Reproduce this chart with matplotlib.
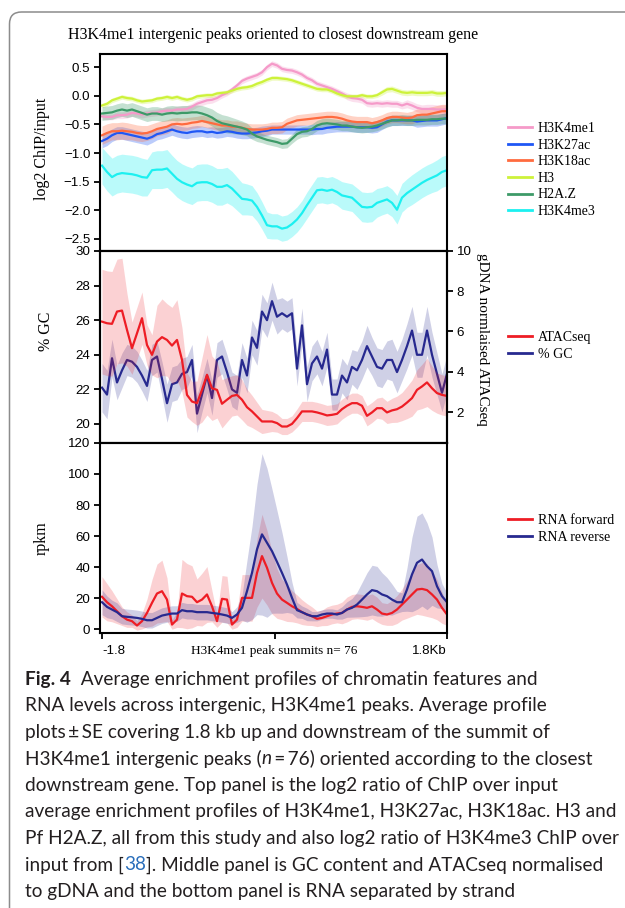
import numpy as np
import matplotlib
matplotlib.use('Agg')
import matplotlib.pyplot as plt
from matplotlib.patches import FancyBboxPatch

plt.rcParams['font.family'] = 'Liberation Sans'
plt.rcParams['axes.linewidth'] = 1.5

SERIF = 'Liberation Serif'
CAPTION = ['Lato', 'DejaVu Sans']

# ── data (70 bins, -1.8 kb .. summit .. +1.8 kb) ─────────────────────────────
pos = np.arange(70)

h3k4me1 = [-0.36, -0.37, -0.37, -0.34, -0.34, -0.33, -0.30, -0.31, -0.33, -0.31,
           -0.30, -0.29, -0.27, -0.26, -0.26, -0.24, -0.24, -0.23, -0.19, -0.14,
           -0.11, -0.08, -0.07, -0.04, 0.01, 0.05, 0.11, 0.18, 0.26, 0.30,
           0.33, 0.36, 0.41, 0.50, 0.56, 0.53, 0.47, 0.45, 0.44, 0.41,
           0.37, 0.31, 0.27, 0.21, 0.18, 0.15, 0.12, 0.08, 0.04, -0.01,
           -0.04, -0.05, -0.07, -0.13, -0.14, -0.13, -0.14, -0.13, -0.14, -0.14,
           -0.17, -0.14, -0.17, -0.21, -0.23, -0.23, -0.23, -0.24, -0.24, -0.24]
h3k27ac = [-0.79, -0.75, -0.69, -0.65, -0.65, -0.67, -0.69, -0.71, -0.73, -0.75,
           -0.72, -0.67, -0.65, -0.62, -0.59, -0.62, -0.64, -0.65, -0.63, -0.62,
           -0.62, -0.64, -0.63, -0.65, -0.64, -0.62, -0.63, -0.65, -0.66, -0.66,
           -0.65, -0.64, -0.62, -0.61, -0.59, -0.59, -0.59, -0.59, -0.59, -0.59,
           -0.59, -0.59, -0.59, -0.58, -0.58, -0.56, -0.55, -0.54, -0.54, -0.54,
           -0.54, -0.55, -0.55, -0.55, -0.56, -0.55, -0.50, -0.45, -0.43, -0.43,
           -0.43, -0.43, -0.43, -0.45, -0.44, -0.43, -0.43, -0.43, -0.41, -0.39]
h3k18ac = [-0.69, -0.65, -0.62, -0.62, -0.61, -0.62, -0.63, -0.65, -0.66, -0.65,
           -0.62, -0.58, -0.56, -0.54, -0.50, -0.49, -0.50, -0.49, -0.47, -0.46,
           -0.44, -0.46, -0.48, -0.50, -0.52, -0.52, -0.54, -0.54, -0.56, -0.58,
           -0.59, -0.59, -0.59, -0.58, -0.56, -0.56, -0.55, -0.49, -0.46, -0.43,
           -0.42, -0.41, -0.40, -0.39, -0.38, -0.37, -0.37, -0.38, -0.40, -0.43,
           -0.45, -0.46, -0.46, -0.46, -0.48, -0.46, -0.43, -0.39, -0.37, -0.37,
           -0.38, -0.39, -0.38, -0.34, -0.33, -0.33, -0.31, -0.29, -0.27, -0.27]
h3 = [-0.17, -0.14, -0.08, -0.05, -0.02, -0.04, -0.05, -0.08, -0.10, -0.09,
      -0.08, -0.05, -0.04, -0.02, -0.04, -0.02, -0.05, -0.07, -0.05, -0.01,
      0.00, 0.01, 0.01, 0.04, 0.05, 0.06, 0.09, 0.12, 0.14, 0.15,
      0.17, 0.21, 0.24, 0.28, 0.31, 0.31, 0.30, 0.29, 0.27, 0.24,
      0.21, 0.18, 0.15, 0.12, 0.11, 0.11, 0.08, 0.04, 0.01, -0.01,
      -0.01, -0.01, 0.01, -0.01, -0.01, 0.01, 0.06, 0.11, 0.12, 0.09,
      0.06, 0.05, 0.06, 0.05, 0.05, 0.05, 0.06, 0.04, 0.04, 0.05]
h2az = [-0.31, -0.30, -0.29, -0.26, -0.24, -0.26, -0.24, -0.27, -0.30, -0.33,
        -0.31, -0.31, -0.33, -0.31, -0.30, -0.31, -0.30, -0.30, -0.29, -0.29,
        -0.31, -0.34, -0.38, -0.44, -0.48, -0.50, -0.52, -0.54, -0.56, -0.59,
        -0.66, -0.71, -0.74, -0.77, -0.79, -0.81, -0.84, -0.83, -0.75, -0.67,
        -0.63, -0.62, -0.58, -0.52, -0.49, -0.48, -0.49, -0.50, -0.52, -0.52,
        -0.54, -0.55, -0.56, -0.55, -0.54, -0.52, -0.49, -0.46, -0.43, -0.43,
        -0.42, -0.43, -0.43, -0.42, -0.42, -0.42, -0.41, -0.41, -0.40, -0.40]
h3k4me3 = [-1.22, -1.33, -1.42, -1.37, -1.35, -1.36, -1.37, -1.39, -1.42, -1.43,
           -1.30, -1.29, -1.29, -1.27, -1.36, -1.45, -1.51, -1.55, -1.58, -1.52,
           -1.51, -1.51, -1.54, -1.59, -1.59, -1.56, -1.62, -1.71, -1.80, -1.81,
           -1.83, -1.94, -2.09, -2.26, -2.28, -2.28, -2.32, -2.30, -2.24, -2.16,
           -2.05, -1.91, -1.78, -1.65, -1.64, -1.66, -1.64, -1.68, -1.74, -1.76,
           -1.78, -1.86, -1.94, -1.95, -1.94, -1.87, -1.84, -1.81, -1.87, -1.99,
           -1.78, -1.70, -1.64, -1.58, -1.52, -1.47, -1.43, -1.39, -1.33, -1.30]

se_h3k4me1 = [0.05, 0.05, 0.05, 0.06, 0.06, 0.06, 0.06, 0.06, 0.06, 0.06,
              0.06, 0.06, 0.06, 0.06, 0.06, 0.06, 0.06, 0.06, 0.06, 0.06,
              0.06, 0.06, 0.06, 0.05, 0.05, 0.05, 0.05, 0.05, 0.05, 0.05,
              0.05, 0.05, 0.05, 0.05, 0.05, 0.05, 0.05, 0.05, 0.05, 0.05,
              0.05, 0.05, 0.05, 0.05, 0.05, 0.05, 0.05, 0.05, 0.05, 0.06,
              0.06, 0.06, 0.06, 0.06, 0.06, 0.06, 0.06, 0.06, 0.06, 0.06,
              0.06, 0.07, 0.07, 0.07, 0.07, 0.08, 0.08, 0.08, 0.08, 0.08]
se_h3k27ac = [0.12, 0.12, 0.11, 0.11, 0.11, 0.11, 0.11, 0.11, 0.11, 0.11,
              0.10, 0.10, 0.10, 0.10, 0.10, 0.10, 0.10, 0.10, 0.10, 0.10,
              0.09, 0.09, 0.09, 0.09, 0.09, 0.09, 0.09, 0.09, 0.09, 0.09,
              0.09, 0.09, 0.09, 0.09, 0.08, 0.08, 0.08, 0.08, 0.08, 0.08,
              0.08, 0.08, 0.09, 0.09, 0.09, 0.09, 0.09, 0.09, 0.09, 0.09,
              0.09, 0.09, 0.09, 0.09, 0.09, 0.09, 0.09, 0.09, 0.09, 0.09,
              0.09, 0.09, 0.09, 0.10, 0.10, 0.10, 0.10, 0.10, 0.10, 0.10]
se_h3k18ac = [0.16, 0.16, 0.15, 0.15, 0.15, 0.15, 0.14, 0.14, 0.14, 0.13,
              0.13, 0.12, 0.12, 0.12, 0.11, 0.11, 0.11, 0.11, 0.10, 0.10,
              0.10, 0.10, 0.10, 0.10, 0.10, 0.10, 0.10, 0.10, 0.10, 0.10,
              0.10, 0.10, 0.10, 0.10, 0.10, 0.10, 0.10, 0.10, 0.10, 0.10,
              0.10, 0.10, 0.10, 0.10, 0.10, 0.10, 0.10, 0.10, 0.10, 0.10,
              0.10, 0.10, 0.10, 0.10, 0.10, 0.10, 0.10, 0.10, 0.10, 0.10,
              0.10, 0.10, 0.11, 0.11, 0.11, 0.12, 0.12, 0.12, 0.12, 0.12]
se_h3 = [0.04, 0.04, 0.04, 0.04, 0.04, 0.04, 0.04, 0.04, 0.04, 0.04,
         0.04, 0.04, 0.04, 0.04, 0.04, 0.04, 0.04, 0.04, 0.04, 0.04,
         0.04, 0.04, 0.04, 0.04, 0.04, 0.04, 0.04, 0.04, 0.04, 0.04,
         0.04, 0.04, 0.04, 0.04, 0.04, 0.04, 0.04, 0.04, 0.04, 0.04,
         0.04, 0.04, 0.04, 0.04, 0.04, 0.04, 0.04, 0.04, 0.04, 0.04,
         0.04, 0.04, 0.04, 0.04, 0.04, 0.04, 0.05, 0.05, 0.05, 0.05,
         0.05, 0.05, 0.05, 0.05, 0.05, 0.05, 0.05, 0.05, 0.05, 0.05]
se_h2az = [0.12, 0.12, 0.12, 0.12, 0.12, 0.12, 0.12, 0.12, 0.12, 0.12,
           0.12, 0.12, 0.12, 0.13, 0.13, 0.13, 0.13, 0.13, 0.13, 0.13,
           0.14, 0.14, 0.15, 0.15, 0.15, 0.15, 0.14, 0.13, 0.12, 0.11,
           0.10, 0.09, 0.08, 0.08, 0.08, 0.08, 0.08, 0.08, 0.08, 0.09,
           0.09, 0.09, 0.09, 0.09, 0.09, 0.09, 0.09, 0.09, 0.09, 0.09,
           0.09, 0.09, 0.09, 0.09, 0.09, 0.09, 0.09, 0.09, 0.09, 0.09,
           0.09, 0.09, 0.09, 0.09, 0.09, 0.09, 0.09, 0.09, 0.09, 0.09]
se_h3k4me3 = [0.32, 0.33, 0.33, 0.33, 0.33, 0.33, 0.33, 0.33, 0.33, 0.32,
              0.32, 0.33, 0.33, 0.33, 0.32, 0.32, 0.32, 0.32, 0.32, 0.32,
              0.32, 0.32, 0.32, 0.32, 0.32, 0.31, 0.30, 0.29, 0.28, 0.27,
              0.26, 0.25, 0.24, 0.23, 0.22, 0.22, 0.22, 0.22, 0.22, 0.22,
              0.22, 0.23, 0.23, 0.23, 0.23, 0.23, 0.23, 0.23, 0.24, 0.24,
              0.24, 0.25, 0.26, 0.26, 0.26, 0.25, 0.24, 0.24, 0.24, 0.25,
              0.25, 0.25, 0.26, 0.26, 0.26, 0.26, 0.26, 0.27, 0.27, 0.27]

gc = [22.1, 21.7, 23.8, 22.4, 23.1, 23.7, 23.6, 23.3, 22.8, 22.2,
      23.7, 23.9, 22.6, 21.2, 22.3, 22.4, 22.9, 23.0, 23.7, 20.6,
      21.7, 22.8, 21.5, 23.7, 23.9, 23.0, 22.0, 21.8, 23.7, 22.8,
      25.0, 24.4, 26.5, 26.0, 27.1, 26.2, 26.4, 26.2, 26.4, 23.2,
      25.7, 22.3, 23.5, 23.9, 23.2, 24.3, 21.7, 21.7, 22.8, 22.4,
      23.3, 23.1, 23.7, 24.5, 23.9, 23.3, 23.2, 23.7, 23.7, 23.0,
      23.7, 24.5, 25.4, 24.0, 24.0, 25.4, 24.0, 22.9, 21.8, 22.9]
se_gc = [1.4, 1.4, 1.1, 1.0, 1.0, 0.9, 0.9, 0.9, 0.9, 0.9,
         0.9, 0.9, 1.0, 1.1, 1.0, 1.0, 0.9, 0.9, 0.9, 1.1,
         1.0, 1.0, 1.0, 1.0, 1.0, 1.0, 1.0, 1.0, 1.0, 1.0,
         1.0, 1.0, 1.0, 1.0, 1.1, 1.0, 0.9, 0.9, 0.9, 1.0,
         1.0, 1.0, 1.0, 1.0, 1.0, 1.0, 0.9, 0.9, 1.0, 1.0,
         1.0, 1.1, 1.1, 1.2, 1.1, 1.1, 1.1, 1.1, 1.2, 1.2,
         1.2, 1.3, 1.4, 1.3, 1.3, 1.4, 1.3, 1.2, 1.1, 1.1]
atac = [6.49, 6.41, 6.38, 6.99, 7.04, 6.08, 5.17, 5.91, 6.66, 5.33,
        4.84, 5.50, 5.72, 5.58, 5.30, 5.58, 4.59, 2.85, 2.52, 2.44,
        3.10, 3.85, 3.18, 3.10, 2.41, 2.61, 2.80, 2.85, 2.61, 2.24,
        2.03, 1.78, 1.53, 1.53, 1.53, 1.45, 1.28, 1.28, 1.41, 1.70,
        2.03, 2.03, 2.03, 1.98, 1.91, 1.83, 1.86, 1.91, 2.14, 2.31,
        2.44, 2.44, 2.31, 1.81, 1.98, 2.19, 2.19, 1.98, 2.08, 2.14,
        2.27, 2.47, 2.69, 3.10, 3.27, 3.47, 3.18, 2.94, 2.85, 2.80]
se_atac = [2.6, 2.6, 2.6, 2.6, 2.6, 1.8, 1.3, 1.3, 1.3, 1.0,
           1.0, 1.8, 1.9, 1.8, 1.9, 2.0, 1.6, 1.1, 1.0, 1.1,
           1.6, 2.0, 1.6, 1.4, 1.2, 1.1, 1.0, 1.0, 1.0, 0.9,
           0.8, 0.7, 0.6, 0.55, 0.5, 0.45, 0.4, 0.4, 0.4, 0.45,
           0.5, 0.5, 0.5, 0.5, 0.5, 0.5, 0.5, 0.5, 0.5, 0.5,
           0.5, 0.5, 0.5, 0.5, 0.5, 0.5, 0.55, 0.55, 0.6, 0.65,
           0.7, 0.8, 0.9, 1.0, 1.1, 1.2, 1.1, 1.0, 1.0, 1.0]

rna_fwd = [20.9, 17.4, 14.8, 11.6, 8.4, 6.2, 5.2, 2.4, 5.2, 10.5,
           17.0, 23.0, 24.5, 19.1, 3.0, 6.2, 23.0, 21.3, 20.9, 17.4,
           19.1, 22.4, 14.8, 5.2, 19.6, 19.1, 3.0, 6.2, 20.2, 20.2,
           20.2, 36.3, 47.1, 39.6, 29.9, 23.0, 19.1, 17.0, 14.8, 13.1,
           11.0, 9.5, 8.4, 6.7, 7.3, 8.4, 9.5, 10.1, 10.5, 12.7,
           14.4, 14.8, 14.4, 13.8, 14.8, 12.7, 10.1, 9.5, 10.5, 12.7,
           15.9, 19.1, 22.4, 25.6, 26.0, 25.2, 22.4, 19.1, 13.8, 9.5]
se_fwd = [13, 12, 10, 8, 6, 5, 4, 3, 5, 9,
          15, 19, 20, 14, 3, 5, 22, 21, 20, 15,
          17, 18, 10, 4, 15, 15, 3, 5, 15, 15,
          15, 22, 27, 24, 20, 16, 13, 12, 10, 9,
          8, 7, 6, 5, 5, 6, 6, 6, 7, 8,
          8, 8, 8, 8, 8, 8, 7, 7, 8, 9,
          10, 12, 14, 16, 17, 17, 15, 13, 10, 7]
rna_rev = [17.4, 14.4, 12.7, 11.0, 8.4, 8.0, 7.7, 7.3, 6.7, 5.8,
           5.8, 7.3, 8.8, 9.5, 10.1, 10.1, 12.3, 11.6, 11.6, 11.0,
           11.0, 11.0, 10.5, 10.1, 9.5, 8.8, 7.3, 9.5, 13.8, 24.5,
           36.3, 51.4, 61.1, 55.7, 50.3, 43.4, 36.3, 28.8, 20.2, 12.3,
           11.0, 9.5, 8.4, 8.4, 9.5, 10.1, 10.1, 9.5, 10.5, 12.7,
           13.8, 15.9, 19.1, 22.4, 25.2, 24.5, 22.4, 21.3, 19.1, 17.4,
           17.4, 25.6, 35.3, 42.8, 44.9, 40.6, 37.4, 27.7, 21.3, 17.4]
se_rev = [8, 7, 6, 6, 5, 5, 5, 5, 5, 5,
          5, 5, 5, 5, 5, 5, 5, 5, 5, 5,
          5, 5, 5, 5, 5, 5, 4, 5, 8, 20,
          30, 42, 52, 48, 40, 33, 26, 18, 10, 5,
          4, 4, 3, 3, 3, 3, 3, 3, 4, 5,
          6, 8, 11, 14, 16, 16, 14, 12, 10, 7,
          6, 14, 24, 30, 30, 28, 22, 14, 8, 6]

RED = '#ee1d25'
NAVY = '#27298f'

top_series = [
    ('H3K4me1', h3k4me1, se_h3k4me1, '#f59ac9'),
    ('H3K27ac', h3k27ac, se_h3k27ac, '#1f57f5'),
    ('H3K18ac', h3k18ac, se_h3k18ac, '#ff6b3f'),
    ('H3', h3, se_h3, '#cdf23a'),
    ('H2A.Z', h2az, se_h2az, '#3d9a68'),
    ('H3K4me3', h3k4me3, se_h3k4me3, '#1cf0f0'),
]

# ── figure ───────────────────────────────────────────────────────────────────
fig = plt.figure(figsize=(6.25, 9.08), dpi=100)

frame = FancyBboxPatch((0.095, -0.5), 7.0, 9.46,
                       boxstyle='round,pad=0,rounding_size=0.12',
                       transform=fig.dpi_scale_trans, fill=False,
                       edgecolor='#8c8c8c', linewidth=1.1)
fig.add_artist(frame)

ax1 = fig.add_axes([0.16, 0.7236, 0.5552, 0.2170])
ax2 = fig.add_axes([0.16, 0.5121, 0.5552, 0.2115])
ax3 = fig.add_axes([0.16, 0.3029, 0.5552, 0.2093])

leg_kw = dict(loc='center left', bbox_transform=fig.transFigure, frameon=False,
              prop={'family': SERIF, 'size': 10}, handlelength=1.7,
              handletextpad=0.45, labelspacing=0.26, borderpad=0, borderaxespad=0)

# top panel
for name, m, s, c in top_series:
    m, s = np.array(m), np.array(s)
    ax1.fill_between(pos, m - s, m + s, color=c, alpha=0.3, lw=0)
    ax1.plot(pos, m, color=c, lw=1.6, label=name)
ax1.set_ylim(-2.71, 0.73)
ax1.set_yticks(np.arange(-2.5, 0.51, 0.5))
ax1.set_ylabel('log2 ChIP/input', family=SERIF, fontsize=11.5)
ax1.yaxis.set_label_coords(-0.144, 0.52)
leg = ax1.legend(bbox_to_anchor=(508 / 625, 1 - 170 / 908), **leg_kw)
for ln in leg.get_lines():
    ln.set_linewidth(2)

fig.text(273.5 / 625, 1 - 35 / 908,
         'H3K4me1 intergenic peaks oriented to closest downstream gene',
         family=SERIF, fontsize=11.5, ha='center', va='center')

# middle panel: % GC (left) and ATACseq (right)
ax2r = ax2.twinx()
gc_a, se_gc_a = np.array(gc), np.array(se_gc)
atac_a, se_atac_a = np.array(atac), np.array(se_atac)
ax2.fill_between(pos, gc_a - se_gc_a, gc_a + se_gc_a, color=NAVY, alpha=0.22, lw=0)
l_gc, = ax2.plot(pos, gc_a, color=NAVY, lw=1.6, label='% GC')
ax2r.fill_between(pos, atac_a - se_atac_a, atac_a + se_atac_a, color=RED, alpha=0.2, lw=0)
l_atac, = ax2r.plot(pos, atac_a, color=RED, lw=1.6, label='ATACseq')
ax2.set_ylim(18.9, 30)
ax2.set_yticks(np.arange(20, 31, 2))
ax2r.set_ylim(0.46, 10)
ax2r.set_yticks(np.arange(2, 11, 2))
ax2.set_ylabel('% GC', family=SERIF, fontsize=11.5)
ax2.yaxis.set_label_coords(-0.133, 0.58)
ax2r.set_ylabel('gDNA normlaised ATACseq', family=SERIF, fontsize=11,
                rotation=270, va='bottom')
ax2r.yaxis.set_label_coords(1.085, 0.54)
leg = ax2r.legend(handles=[l_atac, l_gc], bbox_to_anchor=(508 / 625, 1 - 346 / 908), **leg_kw)
for ln in leg.get_lines():
    ln.set_linewidth(2)

# bottom panel: RNA by strand
fwd, sf = np.array(rna_fwd), np.array(se_fwd)
rev, sr = np.array(rna_rev), np.array(se_rev)
ax3.fill_between(pos, fwd - sf, fwd + sf, color=RED, alpha=0.2, lw=0)
ax3.fill_between(pos, rev - sr, rev + sr, color=NAVY, alpha=0.22, lw=0)
ax3.plot(pos, fwd, color=RED, lw=1.6, label='RNA forward')
ax3.plot(pos, rev, color=NAVY, lw=1.6, label='RNA reverse')
ax3.set_ylim(-2.4, 120)
ax3.set_yticks(np.arange(0, 121, 20))
ax3.set_ylabel('rpkm', family=SERIF, fontsize=11.5)
ax3.yaxis.set_label_coords(-0.144, 0.5)
leg = ax3.legend(bbox_to_anchor=(508 / 625, 1 - 529 / 908), **leg_kw)
for ln in leg.get_lines():
    ln.set_linewidth(2)

for ax in (ax1, ax2, ax3):
    ax.set_xlim(-0.4, 69)
    ax.tick_params(axis='y', direction='out', length=4, width=1.3, labelsize=9.6, pad=3)
ax2r.tick_params(axis='y', direction='out', length=4, width=1.3, labelsize=9.6, pad=3)
ax1.set_xticks([])
ax2.set_xticks([])
ax3.set_xticks([0, 34.5, 69])
ax3.set_xticklabels(['-1.8', 'H3K4me1 peak summits n= 76', '1.8Kb'])
ax3.tick_params(axis='x', direction='out', length=4, width=1.3, labelsize=9.5, pad=5)
xl = ax3.get_xticklabels()
xl[0].set_ha('left')
xl[1].set_family(SERIF)
xl[2].set_ha('right')

# ── caption ──────────────────────────────────────────────────────────────────
cap = dict(family=CAPTION, fontsize=13.7, color='#231f20')
x0 = 25 / 625
base = [1 - (685 + 26.5 * k) / 908 for k in range(9)]


def chain(prev, s, **kw):
    opts = dict(cap)
    opts.update(kw)
    t = ax3.annotate(s, xy=(1, prev._cap_y), xycoords=(prev, 'figure fraction'),
                     ha='left', va='baseline', annotation_clip=False, **opts)
    t._cap_y = prev._cap_y
    return t


def line(y, s, **kw):
    opts = dict(cap)
    opts.update(kw)
    t = fig.text(x0, y, s, ha='left', va='baseline', **opts)
    t._cap_y = y
    return t


t = line(base[0], 'Fig. 4', weight='bold')
chain(t, '  Average enrichment profiles of chromatin features and')
line(base[1], 'RNA levels across intergenic, H3K4me1 peaks. Average profile')
line(base[2], 'plots\u2009\u00b1\u2009SE covering 1.8 kb up and downstream of the summit of')
t = line(base[3], 'H3K4me1 intergenic peaks (')
t = chain(t, 'n', style='italic')
chain(t, '\u2009=\u200976) oriented according to the closest')
line(base[4], 'downstream gene. Top panel is the log2 ratio of ChIP over input')
line(base[5], 'average enrichment profiles of H3K4me1, H3K27ac, H3K18ac. H3 and')
line(base[6], 'Pf H2A.Z, all from this study and also log2 ratio of H3K4me3 ChIP over')
t = line(base[7], 'input from [')
t = chain(t, '38', color='#2a6ebb')
chain(t, ']. Middle panel is GC content and ATACseq normalised')
line(base[8], 'to gDNA and the bottom panel is RNA separated by strand')

fig.savefig('out.png', dpi=100)
